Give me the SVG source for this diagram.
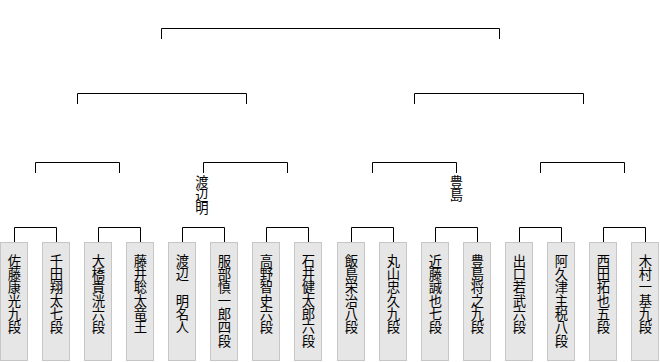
<svg xmlns="http://www.w3.org/2000/svg" width="660" height="362" viewBox="0 0 660 362">
<style>
.box{fill:#e6e6e6;stroke:#c6c6c6;stroke-width:1}
.ln{fill:none;stroke:#000;stroke-width:1}
.t{font-family:"Noto Sans CJK JP","Noto Sans CJK SC",sans-serif;font-size:13.3px;fill:#000;writing-mode:vertical-rl}
</style>
<rect width="660" height="362" fill="#fff"/>
<g id="connectors">
<path class="ln" d="M161.5 39V28.5H499.5V39"/>
<path class="ln" d="M77.5 104V93.5H246.5V104"/>
<path class="ln" d="M414.5 104V93.5H583.5V104"/>
<path class="ln" d="M35.5 173V162.5H119.5V173"/>
<path class="ln" d="M203.5 173V162.5H287.5V173"/>
<path class="ln" d="M372.5 173V162.5H456.5V173"/>
<path class="ln" d="M540.5 173V162.5H624.5V173"/>
<path class="ln" d="M14.5 242V227.5H56.5V242"/>
<path class="ln" d="M98.5 242V227.5H140.5V242"/>
<path class="ln" d="M182.5 242V227.5H224.5V242"/>
<path class="ln" d="M266.5 242V227.5H308.5V242"/>
<path class="ln" d="M351.5 242V227.5H393.5V242"/>
<path class="ln" d="M435.5 242V227.5H477.5V242"/>
<path class="ln" d="M519.5 242V227.5H561.5V242"/>
<path class="ln" d="M603.5 242V227.5H645.5V242"/>
</g>
<g id="winner-sf1"><text class="t" x="202" y="175">渡辺明</text></g>
<g id="winner-sf3"><text class="t" x="456.5" y="175">豊島</text></g>
<g id="p1"><rect class="box" x="0.5" y="242.5" width="27" height="118"/><text class="t" x="14.5" y="254">佐藤康光九段</text></g>
<g id="p2"><rect class="box" x="42.5" y="242.5" width="27" height="118"/><text class="t" x="56.5" y="254">千田翔太七段</text></g>
<g id="p3"><rect class="box" x="84.5" y="242.5" width="27" height="118"/><text class="t" x="98.5" y="254">大橋貴洸六段</text></g>
<g id="p4"><rect class="box" x="126.5" y="242.5" width="27" height="118"/><text class="t" x="140.5" y="254">藤井聡太竜王</text></g>
<g id="p5"><rect class="box" x="168.5" y="242.5" width="27" height="118"/><text class="t" x="182.5" y="254">渡辺　明名人</text></g>
<g id="p6"><rect class="box" x="210.5" y="242.5" width="27" height="118"/><text class="t" x="224.5" y="254">服部慎一郎四段</text></g>
<g id="p7"><rect class="box" x="252.5" y="242.5" width="27" height="118"/><text class="t" x="266.5" y="254">高野智史六段</text></g>
<g id="p8"><rect class="box" x="294.5" y="242.5" width="27" height="118"/><text class="t" x="308.5" y="254">石井健太郎六段</text></g>
<g id="p9"><rect class="box" x="337.5" y="242.5" width="27" height="118"/><text class="t" x="351.5" y="254">飯島栄治八段</text></g>
<g id="p10"><rect class="box" x="379.5" y="242.5" width="27" height="118"/><text class="t" x="393.5" y="254">丸山忠久九段</text></g>
<g id="p11"><rect class="box" x="421.5" y="242.5" width="27" height="118"/><text class="t" x="435.5" y="254">近藤誠也七段</text></g>
<g id="p12"><rect class="box" x="463.5" y="242.5" width="27" height="118"/><text class="t" x="477.5" y="254">豊島将之九段</text></g>
<g id="p13"><rect class="box" x="505.5" y="242.5" width="27" height="118"/><text class="t" x="519.5" y="254">出口若武六段</text></g>
<g id="p14"><rect class="box" x="547.5" y="242.5" width="27" height="118"/><text class="t" x="561.5" y="254">阿久津主税八段</text></g>
<g id="p15"><rect class="box" x="589.5" y="242.5" width="27" height="118"/><text class="t" x="603.5" y="254">西田拓也五段</text></g>
<g id="p16"><rect class="box" x="631.5" y="242.5" width="27" height="118"/><text class="t" x="645.5" y="254">木村一基九段</text></g>
</svg>
